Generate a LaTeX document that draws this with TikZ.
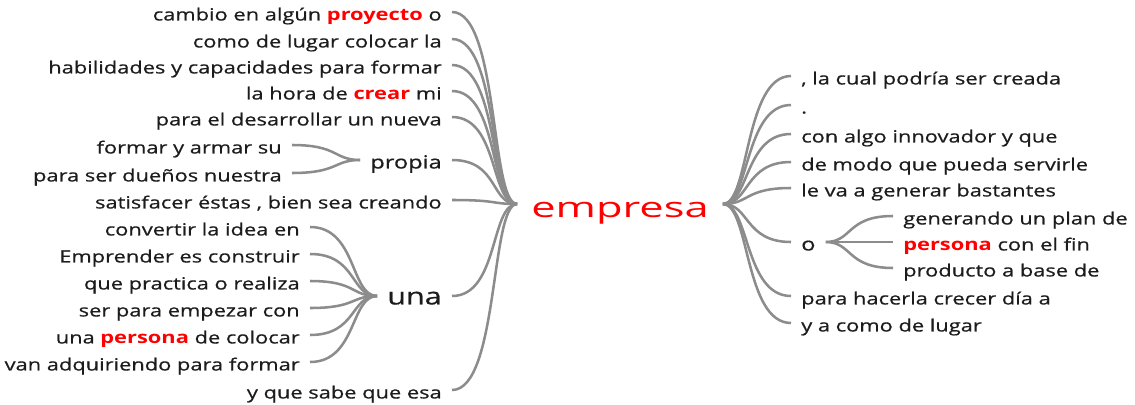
\documentclass[tikz,border=0pt]{standalone}
\usepackage{fontspec}
\setmainfont[FakeStretch=1.3, UprightFeatures={FakeBold=0.6}]{Open Sans}
\newfontfamily\rootfont[FakeStretch=1.55]{Open Sans}
\usetikzlibrary{positioning}
\definecolor{hlred}{RGB}{255,0,0}
\definecolor{linegray}{RGB}{140,140,140}
\definecolor{textgray}{RGB}{28,28,28}
\newcommand{\hlword}[1]{\textcolor{hlred}{\textbf{#1}}}

\begin{document}
\begin{tikzpicture}[x=0.75pt, y=-0.75pt,
    word/.style={text=textgray, font=\fontsize{12.6}{15}\selectfont, inner xsep=7.5pt, inner ysep=0pt, text height=12.7pt, text depth=0pt},
    wordL/.style={word, anchor=east},
    wordR/.style={word, anchor=west},
    bigword/.style={font=\fontsize{13.6}{16}\selectfont},
    hugeword/.style={font=\fontsize{17.6}{20}\selectfont},
    branchL/.style={draw=linegray, line width=1.9pt, out=0, in=180, out distance=35pt, in distance=20pt},
    branchR/.style={draw=linegray, line width=1.9pt, out=0, in=180, out distance=20pt, in distance=35pt}]
        \useasboundingbox (0,0) rectangle (1135,404);

        % nodes %
        \node[text=hlred, font=\rootfont\fontsize{21}{25}\selectfont, inner xsep=10.5pt, inner ysep=0pt, text height=20.5pt, text depth=0pt] (emp) at (620,204) {empresa};

        % left side
        \node[wordL] (l1) at (452,12) {cambio en algún \hlword{proyecto} o};
        \node[wordL] (l2) at (452,39) {como de lugar colocar la};
        \node[wordL] (l3) at (452,65) {habilidades y capacidades para formar};
        \node[wordL] (l4) at (452,91) {la hora de \hlword{crear} mi};
        \node[wordL] (l5) at (452,117) {para el desarrollar un nueva};
        \node[wordL, bigword] (prop) at (452,160) {propia};
        \node[wordL] (prop1) at (292,145) {formar y armar su};
        \node[wordL] (prop2) at (292,173) {para ser dueños nuestra};
        \node[wordL] (l7) at (452,200) {satisfacer éstas , bien sea creando};
        \node[wordL, hugeword] (una) at (452,296) {una};
        \node[wordL] (una1) at (310,227) {convertir la idea en};
        \node[wordL] (una2) at (310,254) {Emprender es construir};
        \node[wordL] (una3) at (310,281) {que practica o realiza};
        \node[wordL] (una4) at (310,308) {ser para empezar con};
        \node[wordL] (una5) at (310,335) {una \hlword{persona} de colocar};
        \node[wordL] (una6) at (310,362) {van adquiriendo para formar};
        \node[wordL] (l9) at (452,390) {y que sabe que esa};

        % right side
        \node[wordR] (r1) at (791,76) {, la cual podría ser creada};
        \node[wordR] (r2) at (791,105) {.};
        \node[wordR] (r3) at (791,134) {con algo innovador y que};
        \node[wordR] (r4) at (791,162) {de modo que pueda servirle};
        \node[wordR] (r5) at (791,188) {le va a generar bastantes};
        \node[wordR, bigword] (o) at (791,242) {o};
        \node[wordR] (o1) at (893,216) {generando un plan de};
        \node[wordR] (o2) at (893,242) {\hlword{persona} con el fin};
        \node[wordR] (o3) at (893,268) {producto a base de};
        \node[wordR] (r7) at (791,296) {para hacerla crecer día a};
        \node[wordR] (r8) at (791,323) {y a como de lugar};

        % edges %
        \foreach \n in {l1,l2,l3,l4,l5,prop,l7,una,l9}
            \draw[branchL] (\n.east) to (emp.west);
        \foreach \n in {prop1,prop2}
            \draw[branchL] (\n.east) to (prop.west);
        \foreach \n in {una1,una2,una3,una4,una5,una6}
            \draw[branchL] (\n.east) to (una.west);
        \foreach \n in {r1,r2,r3,r4,r5,o,r7,r8}
            \draw[branchR] (emp.east) to (\n.west);
        \foreach \n in {o1,o2,o3}
            \draw[branchR] (o.east) to (\n.west);
      \end{tikzpicture}
\end{document}
